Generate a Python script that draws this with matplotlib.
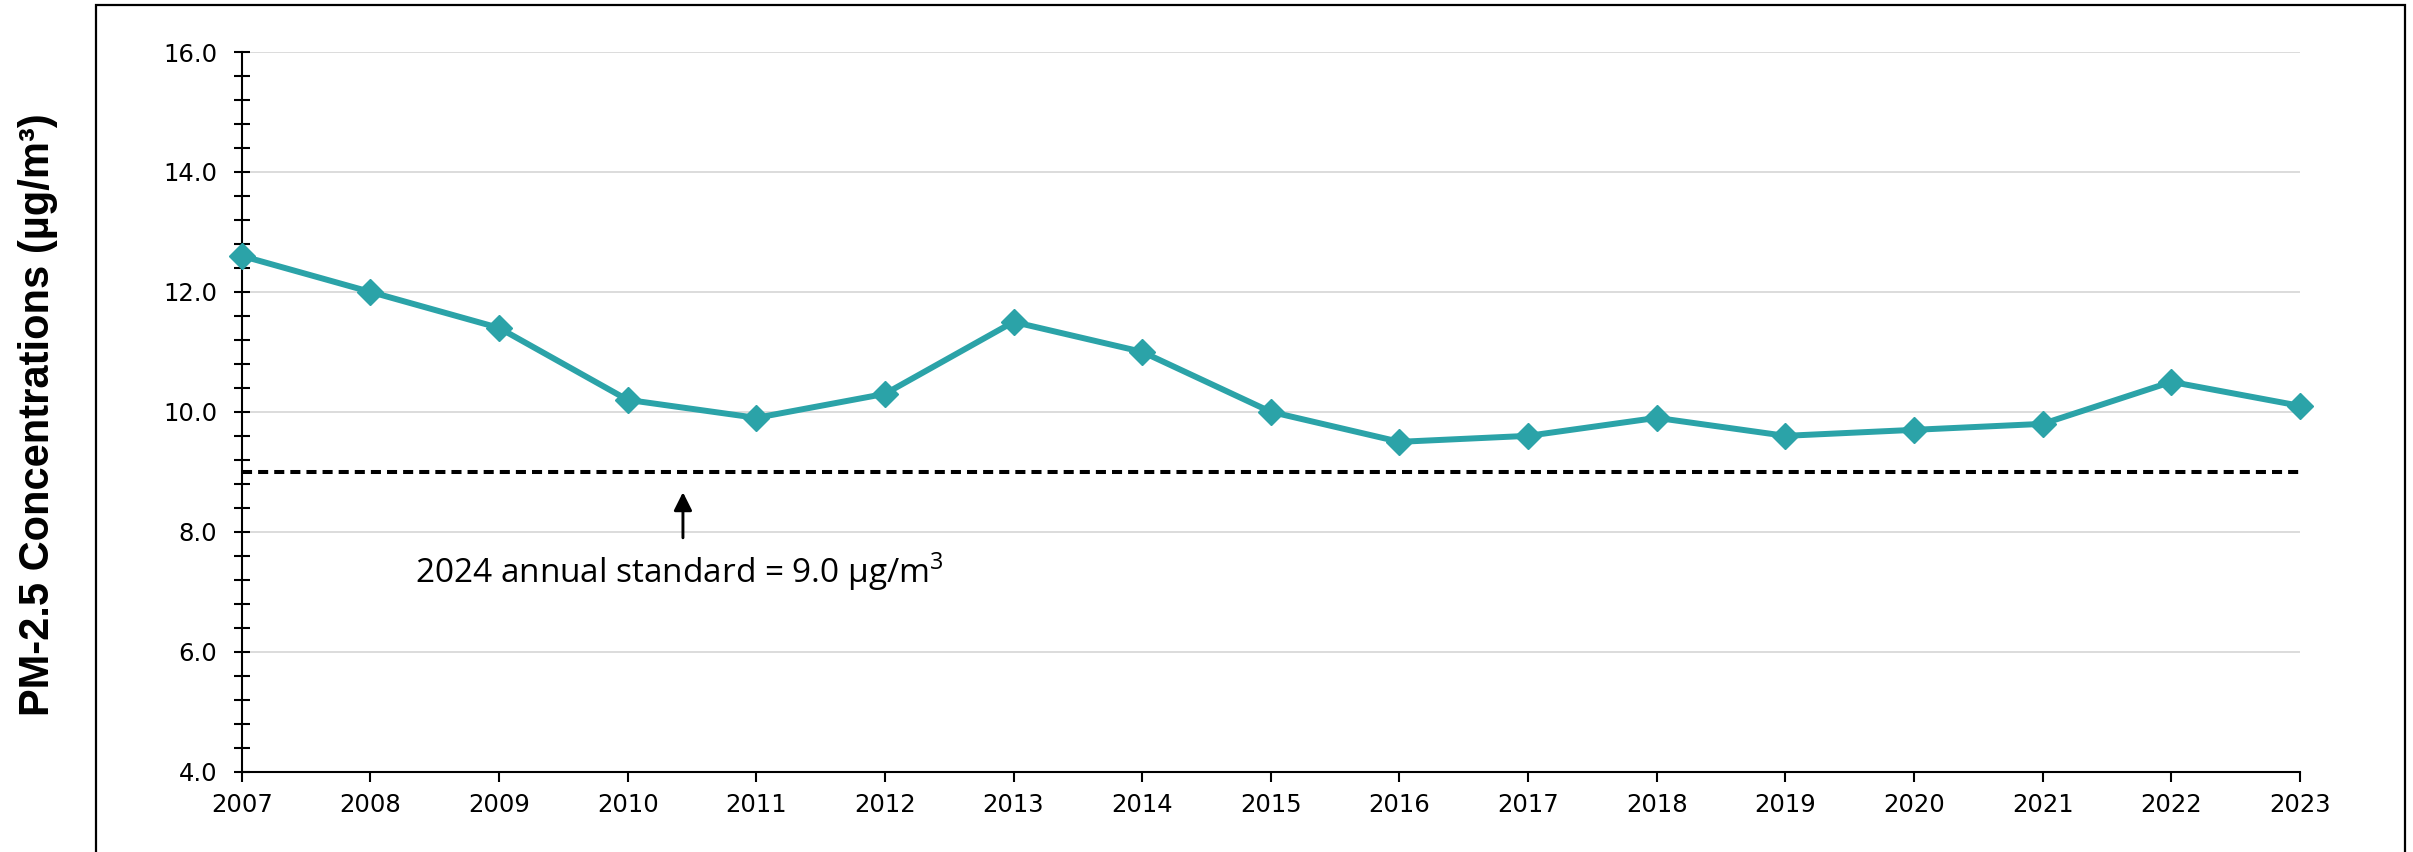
import matplotlib
matplotlib.use("Agg")
import matplotlib.pyplot as plt
from matplotlib.patches import Rectangle
from matplotlib.ticker import MultipleLocator, FormatStrFormatter

years = [2007, 2008, 2009, 2010, 2011, 2012, 2013, 2014, 2015, 2016, 2017,
         2018, 2019, 2020, 2021, 2022, 2023]
pm25 = [12.6, 12.0, 11.4, 10.2, 9.9, 10.3, 11.5, 11.0, 10.0, 9.5, 9.6,
        9.9, 9.6, 9.7, 9.8, 10.5, 10.1]
standard = 9.0
ylabel = "PM-2.5 Concentrations (µg/m³)"
note = "2024 annual standard = 9.0 µg/m$^3$"

plt.rcParams["font.family"] = ["DejaVu Sans"]
plt.rcParams["mathtext.fontset"] = "custom"
plt.rcParams["mathtext.rm"] = "Open Sans"

W, H = 2413, 852
fig = plt.figure(figsize=(W / 100, H / 100), dpi=100)
ax = fig.add_axes([241.7 / W, 1 - 771.7 / H, (2300 - 241.7) / W, (771.7 - 52) / H])

# outer frame
fig.patches.append(Rectangle((96 / W, -0.05), (2405 - 96) / W, 1.05 - 5 / H,
                             transform=fig.transFigure, fill=False,
                             edgecolor="black", linewidth=1.6, zorder=0))

ax.set_xlim(years[0], years[-1])
ax.set_ylim(4.0, 16.0)
ax.yaxis.set_major_locator(MultipleLocator(2.0))
ax.yaxis.set_minor_locator(MultipleLocator(0.4))
ax.yaxis.set_major_formatter(FormatStrFormatter("%.1f"))
ax.set_xticks(years)
ax.set_xticklabels([str(y) for y in years])

ax.grid(axis="y", which="major", color="#D9D9D9", linewidth=1.3, zorder=0)
ax.set_axisbelow(True)

for s in ["top", "right"]:
    ax.spines[s].set_visible(False)
for s in ["left", "bottom"]:
    ax.spines[s].set_linewidth(1.5)
    ax.spines[s].set_color("black")

ax.tick_params(axis="y", which="major", direction="inout", length=11, width=1.5,
               labelsize=17.5, pad=12)
ax.tick_params(axis="y", which="minor", direction="inout", length=11, width=1.5)
ax.tick_params(axis="x", which="major", direction="out", length=7, width=1.5,
               labelsize=17.5, pad=8)
for lbl in ax.get_xticklabels() + ax.get_yticklabels():
    lbl.set_family("DejaVu Sans")

ax.axhline(standard, color="black", linewidth=2.9, dashes=(2.5, 1.5),
           dash_capstyle="butt", zorder=2)

ax.plot(years, pm25, color="#2BA3A8", linewidth=4.3, marker="D", markersize=13,
        zorder=3, clip_on=False)

ax.annotate("", xy=(2010.43, 8.66), xytext=(2010.43, 7.9),
            arrowprops=dict(arrowstyle="-|>,head_length=1.1,head_width=0.55",
                            color="black", lw=2.1, shrinkA=0, shrinkB=0))
ax.text(2010.4, 7.33, note, ha="center", va="center", fontsize=24,
        family="Open Sans")

fig.text(38 / W, 1 - 415 / H, ylabel, rotation=90, ha="center", va="center",
         fontsize=30, fontweight="bold", family="Liberation Sans")

fig.savefig("out.png", dpi=100)
